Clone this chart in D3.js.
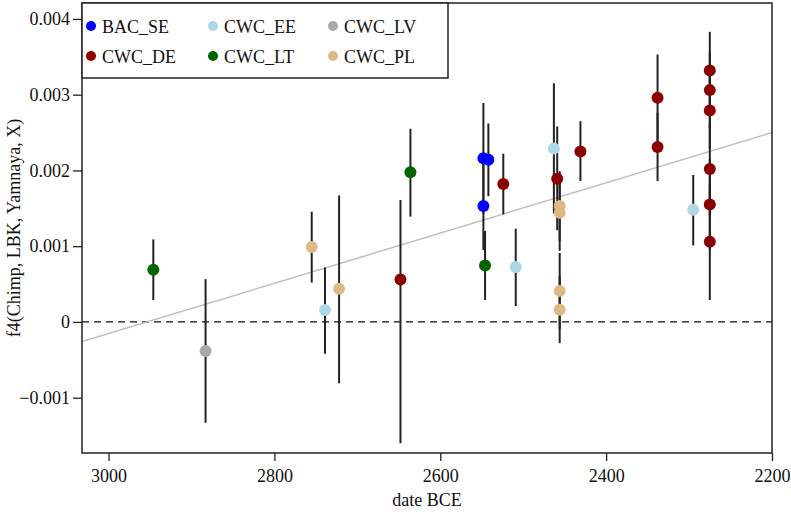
<!DOCTYPE html>
<html>
<head>
<meta charset="utf-8">
<script src="https://cdn.jsdelivr.net/npm/d3@7"></script>
<style>
  html, body { margin: 0; padding: 0; background: #fff; }
  svg { display: block; }
  text { font-family: "Liberation Serif", "DejaVu Serif", serif; }
</style>
</head>
<body>
<div id="chart"></div>
<script>
// ---- data ----
const groups = ["BAC_SE", "CWC_DE", "CWC_EE", "CWC_LT", "CWC_LV", "CWC_PL"];
const groupColors = ["#0000FF", "#8B0000", "#ADD8E6", "#006400", "#A9A9A9", "#DEB887"];

const pointGroup = [
  "BAC_SE", "BAC_SE", "BAC_SE",
  "CWC_DE", "CWC_DE", "CWC_DE", "CWC_DE", "CWC_DE", "CWC_DE",
  "CWC_DE", "CWC_DE", "CWC_DE", "CWC_DE", "CWC_DE", "CWC_DE",
  "CWC_EE", "CWC_EE", "CWC_EE", "CWC_EE",
  "CWC_LT", "CWC_LT", "CWC_LT",
  "CWC_LV",
  "CWC_PL", "CWC_PL", "CWC_PL", "CWC_PL", "CWC_PL", "CWC_PL"
];
const pointDate = [
  2548, 2542, 2548,
  2648, 2524, 2459, 2431, 2338, 2338,
  2275, 2275, 2275, 2275, 2275, 2275,
  2739, 2509, 2463, 2295,
  2946, 2636, 2546,
  2883,
  2755, 2722, 2456, 2456, 2456, 2456
];
const pointValue = [
  0.00216, 0.00214, 0.00153,
  0.00056, 0.00182, 0.00189, 0.00225, 0.00296, 0.00231,
  0.00332, 0.00306, 0.00279, 0.00202, 0.00155, 0.00106,
  0.000159, 0.000724, 0.00229, 0.00148,
  0.00069, 0.001975, 0.000745,
  -0.000384,
  0.000988, 0.000437, 0.00153, 0.00144, 0.00041, 0.00016
];
const pointLow = [
  0.00143, 0.00166, 0.00095,
  -0.00160, 0.00142, 0.00121, 0.00186, 0.00239, 0.00186,
  0.00282, 0.00256, 0.00229, 0.00142, 0.00095, 0.00029,
  -0.00042, 0.00021, 0.00143, 0.00101,
  0.00029, 0.00139, 0.00029,
  -0.00133,
  0.00052, -0.00081, 0.00107, 0.00094, -0.00009, -0.00028
];
const pointHigh = [
  0.00289, 0.00262, 0.00211,
  0.00161, 0.00222, 0.00258, 0.00265, 0.00353, 0.00276,
  0.00383, 0.00356, 0.00329, 0.00262, 0.00215, 0.00183,
  0.00072, 0.00123, 0.00315, 0.00194,
  0.00109, 0.00255, 0.00120,
  0.000565,
  0.001455, 0.00167, 0.00199, 0.00194, 0.00091, 0.00061
];

// regression line (date, value) at the two ends of the axis
const trendDates = [3032, 2200];
const trendValues = [-0.00026, 0.00250];

const xTicks = [3000, 2800, 2600, 2400, 2200];
const yTicks = [-0.001, 0, 0.001, 0.002, 0.003, 0.004];
const yTickLabels = ["\u22120.001", "0", "0.001", "0.002", "0.003", "0.004"];
const xDomain = [3032, 2200];
const yDomain = [-0.00173, 0.00421];

// ---- chart ----
const W = 791, H = 514;
const L = 82, R = 772, T = 3, B = 453;
const svg = d3.select("#chart").append("svg").attr("width", W).attr("height", H);

const x = d3.scaleLinear().domain(xDomain).range([L, R]);
const y = d3.scaleLinear().domain(yDomain).range([B, T]);
const color = d3.scaleOrdinal().domain(groups).range(groupColors);

const points = pointDate.map((d, i) => ({
  g: pointGroup[i], date: d, v: pointValue[i], lo: pointLow[i], hi: pointHigh[i]
}));

// axes
const xAxis = d3.axisBottom(x).tickValues(xTicks).tickFormat(d3.format("d"))
  .tickSize(8).tickPadding(8);
const gx = svg.append("g").attr("transform", `translate(0,${B})`).call(xAxis);
gx.select(".domain").remove();
gx.selectAll("line").attr("stroke", "#222").attr("stroke-width", 1.3);
gx.selectAll("text").attr("font-size", 18).attr("fill", "#111")
  .attr("font-family", "Liberation Serif, serif");

const yAxis = d3.axisLeft(y).tickValues(yTicks)
  .tickFormat((d, i) => yTickLabels[i]).tickSize(9).tickPadding(3);
const gy = svg.append("g").attr("transform", `translate(${L},0)`).call(yAxis);
gy.select(".domain").remove();
gy.selectAll("line").attr("stroke", "#222").attr("stroke-width", 1.3);
gy.selectAll("text").attr("font-size", 18).attr("fill", "#111")
  .attr("font-family", "Liberation Serif, serif");

// zero line
svg.append("line")
  .attr("x1", L).attr("x2", R).attr("y1", y(0)).attr("y2", y(0))
  .attr("stroke", "#111").attr("stroke-width", 1.3).attr("stroke-dasharray", "7,5");

// trend line
const clip = svg.append("clipPath").attr("id", "plotclip")
  .append("rect").attr("x", L).attr("y", T).attr("width", R - L).attr("height", B - T);
svg.append("line")
  .attr("clip-path", "url(#plotclip)")
  .attr("x1", x(trendDates[0])).attr("y1", y(trendValues[0]))
  .attr("x2", x(trendDates[1])).attr("y2", y(trendValues[1]))
  .attr("stroke", "#BEBEBE").attr("stroke-width", 1.5);

// error bars
svg.append("g").selectAll("line").data(points).join("line")
  .attr("x1", d => x(d.date)).attr("x2", d => x(d.date))
  .attr("y1", d => y(d.lo)).attr("y2", d => y(d.hi))
  .attr("stroke", "#222").attr("stroke-width", 2);

// points
svg.append("g").selectAll("circle").data(points).join("circle")
  .attr("cx", d => x(d.date)).attr("cy", d => y(d.v)).attr("r", 6)
  .attr("fill", d => color(d.g));

// plot box
svg.append("rect").attr("x", L).attr("y", T).attr("width", R - L).attr("height", B - T)
  .attr("fill", "none").attr("stroke", "#222").attr("stroke-width", 1.5);

// legend (3 columns, filled column-wise)
const lg = svg.append("g");
lg.append("rect").attr("x", L).attr("y", T).attr("width", 366).attr("height", 75)
  .attr("fill", "#fff").attr("stroke", "#222").attr("stroke-width", 1.5);
const colX = [91, 213, 333];
const rowY = [26, 56];
groups.forEach((g, i) => {
  const c = Math.floor(i / 2), r = i % 2;
  lg.append("circle").attr("cx", colX[c]).attr("cy", rowY[r]).attr("r", 5)
    .attr("fill", color(g));
  lg.append("text").attr("x", colX[c] + 11).attr("y", rowY[r] + 6.5)
    .attr("font-size", 18).attr("fill", "#111").text(g);
});

// axis titles
svg.append("text").attr("x", (L + R) / 2).attr("y", 506).attr("text-anchor", "middle")
  .attr("font-size", 18).attr("fill", "#111").text("date BCE");
svg.append("text").attr("transform", `translate(20,${(T + B) / 2}) rotate(-90)`)
  .attr("text-anchor", "middle").attr("font-size", 18).attr("fill", "#111")
  .text("f4(Chimp, LBK, Yamnaya, X)");
</script>
</body>
</html>
